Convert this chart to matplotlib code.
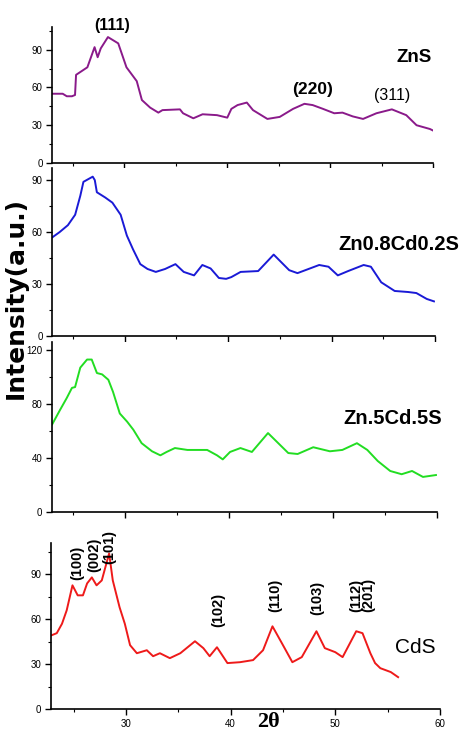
import matplotlib
matplotlib.use("Agg")
import matplotlib.pyplot as plt
from matplotlib import font_manager
from matplotlib.ticker import MultipleLocator

# pick a condensed face if there is one
names = {f.name for f in font_manager.fontManager.ttflist}
narrow = "Liberation Sans Narrow" if "Liberation Sans Narrow" in names else "Liberation Sans"
plt.rcParams['font.family'] = [narrow, 'DejaVu Sans']

# ZnS
zns_x = [23.0, 24.0, 24.4, 24.9, 25.2, 25.3, 26.4, 27.1, 27.4, 27.7, 28.4, 29.4, 30.2, 31.2, 31.7,
         32.5, 33.3, 33.7, 35.4, 35.7, 36.7, 37.6, 39.0, 40.0, 40.4, 41.0, 41.9, 42.5, 43.3, 43.9,
         45.1, 46.4, 47.5, 48.3, 49.3, 50.4, 51.2, 52.2, 53.2, 54.5, 56.0, 57.4, 58.4, 59.7, 59.95]
zns_y = [55, 55, 53, 53, 54, 70, 76, 92, 84, 91, 100, 95, 76, 65, 50,
         44, 40, 42, 42.6, 39.5, 35.5, 38.7, 38, 36, 43, 46, 48, 42, 38, 35,
         36.6, 43, 47, 46, 43, 39.5, 40, 37, 35, 39.5, 42.6, 38, 30, 27, 26]

# Zn0.8Cd0.2S
zc82_x = [23.0, 23.7, 24.5, 25.2, 25.7, 26.0, 26.9, 27.1, 27.3, 28.1, 28.8, 29.6, 30.2, 30.8, 31.5,
          32.2, 33.0, 33.9, 34.9, 35.7, 36.7, 37.5, 38.3, 39.1, 39.8, 40.3, 41.2, 42.9, 44.4, 45.9,
          46.7, 48.8, 49.7, 50.6, 51.6, 53.1, 53.8, 54.8, 56.1, 57.4, 58.2, 59.2, 59.9]
zc82_y = [57, 60, 64, 70, 81, 89, 92, 90, 83, 80, 77, 70, 58, 50, 41.5,
          38.7, 37, 38.7, 41.5, 37, 35, 41, 39, 33.5, 33, 34, 37, 37.5, 47, 38,
          36.3, 41, 40, 35, 37.5, 41, 40, 31, 26, 25.4, 24.8, 21.4, 20]

# Zn.5Cd.5S
zc55_x = [23.0, 23.75, 24.4, 24.9, 25.2, 25.7, 26.35, 26.8, 27.3, 27.8, 28.4, 28.85, 29.5, 30.2,
          30.8, 31.6, 32.6, 33.4, 34.0, 34.8, 36.0, 37.9, 38.85, 39.4, 40.1, 41.1, 42.2, 43.75,
          45.7, 46.6, 48.1, 49.7, 50.9, 52.3, 53.3, 54.3, 55.5, 56.6, 57.6, 58.65, 59.9]
zc55_y = [65, 75.6, 84.5, 92, 92.6, 107, 113, 113, 103, 102, 98, 89, 73, 67,
          61, 51, 45, 42, 44.5, 47.4, 46, 46, 42, 39, 44.5, 47.4, 44.5, 58.5,
          43.7, 43, 48, 45, 46, 51, 46, 37.8, 30.4, 28, 30.4, 26, 27.4]

# CdS
cds_x = [22.9, 23.4, 23.9, 24.35, 24.9, 25.4, 25.9, 26.3, 26.75, 27.2, 27.7, 28.4, 28.75, 29.4,
         29.9, 30.4, 31.05, 32.0, 32.6, 33.25, 34.2, 35.2, 36.6, 37.4, 38.0, 38.7, 39.7, 40.9,
         42.15, 43.1, 44.0, 44.9, 45.9, 46.8, 48.2, 49.0, 50.0, 50.7, 52.0, 52.6, 53.35, 53.8,
         54.3, 55.3, 56.0]
cds_y = [49.3, 50.7, 57, 66, 82.7, 76, 76, 84, 88, 82.7, 86, 104, 86, 68,
         57, 42.7, 37.3, 39.3, 35.3, 37.3, 34, 37.3, 45.3, 40.7, 35.3, 41.3, 30.7, 31.3,
         32.7, 39.3, 55.3, 44, 31.3, 34.7, 52, 40.7, 38, 34.7, 52, 50.7, 37.3, 30.7,
         27.3, 24.7, 21.3]

cds_peaks = ["(100)", "(002)", "(101)", "(102)", "(110)", "(103)", "(112)\n(201)"]
cds_peak_x = [25.4, 27.0, 28.4, 38.8, 44.3, 48.3, 52.6]
cds_peak_y = [98, 103, 108, 66, 76, 74, 76]

fig = plt.figure(figsize=(4.64, 7.33), dpi=100)
W, H = 464.0, 733.0

def panel(l, r, t, b):
    return fig.add_axes([l / W, 1 - b / H, (r - l) / W, (b - t) / H])

def style(ax, ymax, ystep, xlabels):
    ax.set_ylim(0, ymax)
    ax.yaxis.set_major_locator(MultipleLocator(ystep))
    ax.yaxis.set_minor_locator(MultipleLocator(ystep / 2))
    ax.xaxis.set_major_locator(MultipleLocator(10))
    ax.xaxis.set_minor_locator(MultipleLocator(5))
    for s in ['top', 'right']:
        ax.spines[s].set_visible(False)
    for s in ['left', 'bottom']:
        ax.spines[s].set_linewidth(1.2)
    ax.tick_params(which='major', length=4, width=1, pad=3, labelsize=7)
    ax.tick_params(which='minor', length=2.5, width=0.8)
    if not xlabels:
        ax.tick_params(axis='x', labelbottom=False)

ax1 = panel(52.4, 433, 27, 163)
ax1.plot(zns_x, zns_y, color='#8a1a8a', lw=1.4)
ax1.set_xlim(23, 60)
style(ax1, 108, 30, False)
ax1.text(28.8, 109, "(111)", fontsize=11.5, fontweight='bold', ha='center', va='center', clip_on=False)
ax1.text(48.3, 58.4, "(220)", fontsize=12.5, fontweight='bold', ha='center', va='center')
ax1.text(56.0, 53.7, "(311)", fontsize=11.5, ha='center', va='center')
ax1.text(59.9, 84, "ZnS", fontsize=13.5, fontweight='bold', ha='right', va='center')

ax2 = panel(52.4, 435, 168, 336)
ax2.plot(zc82_x, zc82_y, color='#1a1ad6', lw=1.4)
ax2.set_xlim(23, 60)
style(ax2, 97, 30, False)
ax2.text(50.7, 53, "Zn0.8Cd0.2S", fontsize=14.5, fontweight='bold', ha='left', va='center', clip_on=False)

ax3 = panel(52.2, 437, 342, 512)
ax3.plot(zc55_x, zc55_y, color='#22dd22', lw=1.4)
ax3.set_xlim(23, 60)
style(ax3, 126, 40, False)
ax3.text(51.0, 69.6, "Zn.5Cd.5S", fontsize=14.5, fontweight='bold', ha='left', va='center', clip_on=False)

ax4 = panel(51, 440, 543, 709)
ax4.plot(cds_x, cds_y, color='#ee1a1a', lw=1.4)
ax4.set_xlim(22.85, 60)
style(ax4, 111, 30, True)
for lab, px, py in zip(cds_peaks, cds_peak_x, cds_peak_y):
    ax4.text(px, py, lab, rotation=90, fontsize=10.5, family='Liberation Sans', fontweight='bold',
             ha='center', va='center', linespacing=0.8, clip_on=False)
ax4.text(55.7, 41, "CdS", fontsize=15, family='Liberation Sans', ha='left', va='center')

fig.text(16 / W, 1 - 298 / H, "Intensity(a.u.)", rotation=90, fontsize=18,
         family='DejaVu Sans', fontweight='bold', ha='center', va='center')
fig.text(268 / W, 1 - 722 / H, "2θ", fontsize=16, family='Liberation Serif',
         fontweight='bold', ha='center', va='center')

fig.savefig("out.png", dpi=100)
